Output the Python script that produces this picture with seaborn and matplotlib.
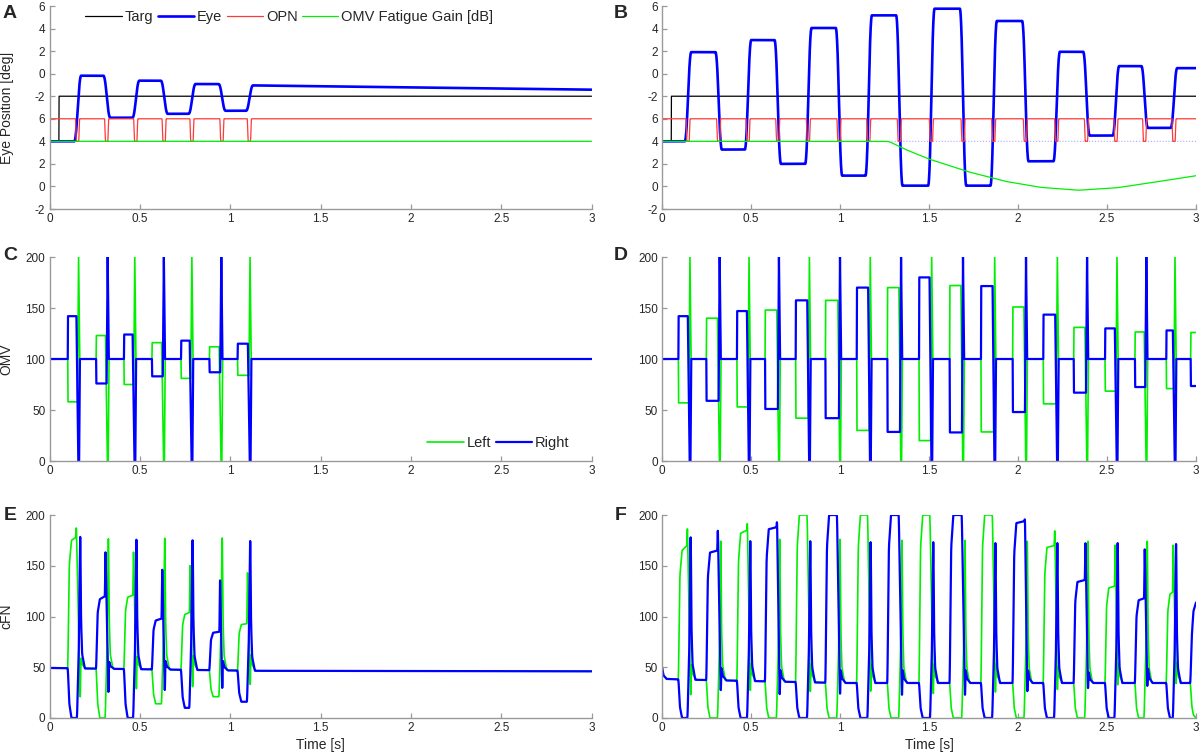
import numpy as np
import matplotlib
matplotlib.use("Agg")
import matplotlib.pyplot as plt
import seaborn as sns

sns.set_style("ticks")
plt.rcParams['font.family'] = ['Liberation Sans', 'DejaVu Sans']

BLUE = '#0000ff'
GREEN = '#00f000'
RED = '#ff3838'
AXC = '#9a9a9a'

# ---------------- values ----------------
# panels A / B : plot units (lower block -2..6, upper block -2..6 shifted by 10)
targ_step = 0.052
eye_a_on = [0.144, 0.305, 0.466, 0.623, 0.777, 0.943, 1.095]
eye_a_lvl = [9.82, 6.09, 9.38, 6.44, 9.08, 6.71, 8.96]
eye_a_end = 8.58
eye_b_on = [0.135, 0.307, 0.472, 0.639, 0.811, 0.983, 1.150, 1.322, 1.502,
            1.680, 1.852, 2.030, 2.206, 2.373, 2.539, 2.700, 2.865]
eye_b_lvl = [11.91, 3.27, 12.98, 2.0, 14.05, 0.96, 15.17, 0.07, 15.76,
             0.07, 14.67, 2.23, 11.94, 4.51, 10.67, 5.19, 10.49]
gain_b_t = [0, 1.273, 1.369, 1.498, 1.712, 1.927, 2.12, 2.335, 2.55, 2.764, 3.0]
gain_b_v = [4, 4, 3.27, 2.44, 1.34, 0.46, -0.07, -0.34, -0.13, 0.37, 0.96]
ab_ticks = [-2, 0, 2, 4, 6, 8, 10, 12, 14, 16]
ab_labels = ['-2', '0', '2', '4', '6', '-2', '0', '2', '4', '6']

# panels C / D : OMV
omv_c_on = [0.101, 0.258, 0.412, 0.567, 0.728, 0.885, 1.041]
omv_c_sp = [0.161, 0.322, 0.472, 0.633, 0.788, 0.951, 1.110]
omv_c_hi = [142, 123, 124, 116, 118, 112, 115]
omv_c_lo = [58, 76, 75, 83, 81, 87, 84]
omv_d_on = [0.092, 0.249, 0.421, 0.579, 0.751, 0.918, 1.094, 1.266, 1.444,
            1.616, 1.792, 1.970, 2.142, 2.313, 2.489, 2.657, 2.833]
omv_d_sp = [0.157, 0.324, 0.489, 0.657, 0.828, 1.000, 1.170, 1.343, 1.515,
            1.691, 1.869, 2.045, 2.221, 2.388, 2.556, 2.721, 2.882]
omv_d_hi = [142, 140, 147, 148, 157.5, 157.5, 170, 170, 180, 172, 171.5,
            151, 143.5, 131, 130, 126.5, 128]
omv_d_lo = [57, 59, 53, 51, 42, 42, 30, 28.5, 20, 28, 28.5, 48, 56, 67,
            68.5, 72.5, 71]
omv_d_tail = (2.970, 126, 73.5)

# panels E / F : cFN
cfn_e_base_t = [0, 1.15, 3.0]
cfn_e_base_v = [49.3, 46.5, 46.0]
cfn_e_on = [0.101, 0.258, 0.412, 0.567, 0.728, 0.885, 1.041]
cfn_e_pk = [0.148, 0.309, 0.464, 0.623, 0.777, 0.943, 1.095]
cfn_e_dr = [0.170, 0.326, 0.481, 0.638, 0.792, 0.956, 1.111]
cfn_e_up0 = [175, 117, 119, 96, 102, 84, 92]
cfn_e_up1 = [178, 120, 121, 98, 104, 85, 93]
cfn_e_upk = [193, 173, 173, 156, 160, 146, 152]
cfn_e_ulo = [13, 18, 21, 20, 23, 22, 26]
cfn_e_urb = [60, 56, 62, 57, 63, 57, 64]
cfn_e_dlo = [0, 0, 0, 14, 10, 21, 16]
cfn_e_dpk = [192, 190, 189, 190, 188, 190, 187]

cfn_f_base_t = [0, 0.008, 0.025, 0.1, 1.0, 3.0]
cfn_f_base_v = [50, 42, 38.5, 38, 34.5, 34.5]
cfn_f_on = omv_d_on
cfn_f_pk = [0.142, 0.313, 0.479, 0.646, 0.815, 0.983, 1.155, 1.330, 1.505,
            1.684, 1.856, 2.039, 2.206, 2.378, 2.545, 2.711, 2.871]
cfn_f_dr = [0.161, 0.330, 0.496, 0.661, 0.833, 1.000, 1.172, 1.348, 1.524,
            1.702, 1.873, 2.052, 2.221, 2.393, 2.560, 2.726, 2.888]
cfn_f_up0 = [165, 163, 182, 186, 200, 200, 200, 200, 200, 200, 200, 192,
             168, 134, 128, 116, 122]
cfn_f_up1 = [170, 165, 185, 188, 200, 200, 200, 200, 200, 200, 200, 194,
             170, 136, 130, 118, 124]
cfn_f_upk = [194, 193, 197, 198, 200, 200, 200, 200, 200, 200, 200, 198,
             193, 183, 181, 177, 180]
cfn_f_ulo = [15, 20, 19, 15, 18, 16, 18, 15, 16, 15, 17, 18, 20, 23, 25,
             25, 27]
cfn_f_urb = [54, 50, 55, 48, 55, 48, 55, 48, 55, 48, 55, 48, 52, 46, 56,
             50, 57]
cfn_f_dlo = [0] * 17
cfn_f_dpk = [192, 188, 188, 190, 188, 190, 187, 189, 187, 189, 186, 188,
             186, 188, 186, 188, 185]
cfn_f_tail_t = [2.968, 2.976, 2.985, 3.0]
cfn_f_tail_up = [34.5, 80, 105, 114]
cfn_f_tail_dn = [34.5, 12, 3, 0]

x_ticks = [0, 0.5, 1, 1.5, 2, 2.5, 3]
x_labels = ['0', '0.5', '1', '1.5', '2', '2.5', '3']

# ---------------- building the traces ----------------
dt = 0.0005
T = np.round(np.arange(0, 3 + dt / 2, dt), 6)


def from_knots(knots):
    return np.interp(T, [k[0] for k in knots], [k[1] for k in knots])


def smooth(y, width):
    n = max(1, int(round(width / dt)))
    pad = np.pad(y, n, mode='edge')
    return np.convolve(pad, np.ones(n) / n, mode='same')[n:-n]


def paste(y, knots):
    m = (T >= knots[0][0]) & (T <= knots[-1][0])
    y[m] = np.interp(T[m], [k[0] for k in knots], [k[1] for k in knots])


def eye_trace(onsets, levels, dur, end=None):
    knots = [(0, 4.0)]
    prev = 4.0
    for t0, lv in zip(onsets, levels):
        knots += [(t0, prev), (t0 + dur, lv)]
        prev = lv
    knots.append((3.0, prev if end is None else end))
    return smooth(from_knots(knots), 0.014)


def opn_trace(onsets):
    knots = [(0, 6)]
    for t0 in onsets:
        knots += [(t0, 6), (t0 + 0.004, 4), (t0 + 0.018, 4), (t0 + 0.022, 6)]
    knots.append((3.0, 6))
    return smooth(from_knots(knots), 0.002)


def omv_traces(onsets, spikes, hi, lo, tail=None):
    blue, green = [(0, 100)], [(0, 100)]
    for k, (t0, ts, h, l) in enumerate(zip(onsets, spikes, hi, lo)):
        hk = [(t0, 100), (t0 + 0.001, h), (ts - 0.012, h), (ts - 0.002, 0),
              (ts + 0.003, 0), (ts + 0.007, 100)]
        lk = [(t0, 100), (t0 + 0.001, l), (ts - 0.006, l), (ts, 200),
              (ts + 0.006, 100)]
        if k % 2 == 0:
            blue += hk
            green += lk
        else:
            green += hk
            blue += lk
    if tail is not None:
        t0, g, b = tail
        green += [(t0, 100), (t0 + 0.001, g)]
        blue += [(t0, 100), (t0 + 0.001, b)]
        green.append((3.0, g))
        blue.append((3.0, b))
    else:
        green.append((3.0, 100))
        blue.append((3.0, 100))
    return from_knots(green), from_knots(blue)


def cfn_traces(bt, bv, on, pk, dr, u0, u1, upk, ulo, urb, dlo, dpk,
               tail=None):
    base = np.interp(T, bt, bv)
    green, blue = base.copy(), base.copy()
    for k in range(len(on)):
        t0, tp, td = on[k], pk[k], dr[k]
        b = np.interp(t0, bt, bv)
        up = [(t0, b), (t0 + 0.008, b + 0.8 * (u0[k] - b)), (t0 + 0.02, u0[k]),
              (tp - 0.002, u1[k]), (tp, upk[k]), (td, ulo[k]),
              (td + 0.003, urb[k]), (td + 0.012, b + 0.3 * (urb[k] - b)),
              (td + 0.03, b)]
        dn = [(t0, b), (t0 + 0.008, b - 0.7 * (b - dlo[k])),
              (t0 + 0.02, dlo[k]), (td - 0.018, dlo[k]),
              (td - 0.008, dlo[k] + 0.35 * (dpk[k] - dlo[k])), (td, dpk[k]),
              (td + 0.004, b + 0.35 * (dpk[k] - b)),
              (td + 0.01, b + 0.1 * (dpk[k] - b)), (td + 0.025, b)]
        if k % 2 == 0:
            paste(green, up)
            paste(blue, dn)
        else:
            paste(blue, up)
            paste(green, dn)
    if tail is not None:
        tt, tu, tdn = tail
        if len(on) % 2 == 1:
            paste(blue, list(zip(tt, tu)))
            paste(green, list(zip(tt, tdn)))
        else:
            paste(green, list(zip(tt, tu)))
            paste(blue, list(zip(tt, tdn)))
    return smooth(green, 0.003), smooth(blue, 0.003)


# ---------------- figure ----------------
W, H = 1199, 755
fig = plt.figure(figsize=(W / 100, H / 100), dpi=100)


def make_ax(left, right, top, bottom):
    return fig.add_axes([left / W, 1 - bottom / H, (right - left) / W,
                         (bottom - top) / H])


cols = [(49.5, 591.5), (662, 1196)]
rows = [(6, 209), (257, 461), (515, 718)]
axes = [[make_ax(c[0], c[1], r[0], r[1]) for c in cols] for r in rows]


def line(ax, y, color, lw, label=None, ls='-'):
    sns.lineplot(x=T, y=y, ax=ax, color=color, lw=lw, label=label,
                 estimator=None, sort=False, linestyle=ls)


# A and B
for j, ax in enumerate(axes[0]):
    targ = from_knots([(0, 4), (targ_step, 4), (targ_step + 0.0005, 8),
                       (3, 8)])
    if j == 0:
        eye = eye_trace(eye_a_on, eye_a_lvl, 0.024, eye_a_end)
        opn = opn_trace(eye_a_on)
        gain = np.full_like(T, 4.0)
    else:
        eye = eye_trace(eye_b_on, eye_b_lvl, 0.022)
        opn = opn_trace(eye_b_on)
        gain = smooth(np.interp(T, gain_b_t, gain_b_v), 0.03)
    line(ax, np.full_like(T, 4.0), '#a8a8ff', 0.8, ls=':')
    line(ax, targ, 'black', 0.9, 'Targ')
    line(ax, eye, BLUE, 1.9, 'Eye')
    line(ax, opn, RED, 0.9, 'OPN')
    line(ax, gain, GREEN, 0.9, 'OMV Fatigue Gain [dB]')
    ax.set_ylim(-2, 16)
    ax.set_yticks(ab_ticks)
    ax.set_yticklabels(ab_labels)
    if j == 0:
        ax.legend(loc='upper left', bbox_to_anchor=(0.055, 1.01), ncol=4,
                  frameon=False, fontsize=10.5, handlelength=2.5,
                  handletextpad=0.2, columnspacing=0.3, borderaxespad=0)
        ax.set_ylabel('Eye Position [deg]', fontsize=10)
    else:
        ax.get_legend().remove()

# C and D
g_c, b_c = omv_traces(omv_c_on, omv_c_sp, omv_c_hi, omv_c_lo)
g_d, b_d = omv_traces(omv_d_on, omv_d_sp, omv_d_hi, omv_d_lo, omv_d_tail)
for j, (ax, g, b) in enumerate(zip(axes[1], [g_c, g_d], [b_c, b_d])):
    line(ax, g, GREEN, 1.2, 'Left')
    line(ax, b, BLUE, 1.6, 'Right')
    ax.set_ylim(0, 200)
    ax.set_yticks([0, 50, 100, 150, 200])
    if j == 0:
        ax.legend(loc='lower right', bbox_to_anchor=(0.97, 0.025),
                  frameon=False, fontsize=10.5, ncol=2, handlelength=2.5,
                  handletextpad=0.2, columnspacing=0.3, borderaxespad=0)
        ax.set_ylabel('OMV', fontsize=10)
    else:
        ax.get_legend().remove()

# E and F
g_e, b_e = cfn_traces(cfn_e_base_t, cfn_e_base_v, cfn_e_on, cfn_e_pk,
                      cfn_e_dr, cfn_e_up0, cfn_e_up1, cfn_e_upk, cfn_e_ulo,
                      cfn_e_urb, cfn_e_dlo, cfn_e_dpk)
g_f, b_f = cfn_traces(cfn_f_base_t, cfn_f_base_v, cfn_f_on, cfn_f_pk,
                      cfn_f_dr, cfn_f_up0, cfn_f_up1, cfn_f_upk, cfn_f_ulo,
                      cfn_f_urb, cfn_f_dlo, cfn_f_dpk,
                      (cfn_f_tail_t, cfn_f_tail_up, cfn_f_tail_dn))
for j, (ax, g, b) in enumerate(zip(axes[2], [g_e, g_f], [b_e, b_f])):
    line(ax, g, GREEN, 1.2)
    line(ax, b, BLUE, 1.6)
    ax.set_ylim(0, 200)
    ax.set_yticks([0, 50, 100, 150, 200])
    ax.set_xlabel('Time [s]', fontsize=10)
    ax.xaxis.set_label_coords(0.5, -0.1)
    if j == 0:
        ax.set_ylabel('cFN', fontsize=10)

for row in axes:
    for ax in row:
        ax.set_xlim(0, 3)
        ax.set_xticks(x_ticks)
        ax.set_xticklabels(x_labels)
        sns.despine(ax=ax)
        for s in ['left', 'bottom']:
            ax.spines[s].set_color(AXC)
            ax.spines[s].set_linewidth(1.0)
        ax.tick_params(direction='in', length=3.5, width=0.9, color=AXC,
                       labelsize=8.5, labelcolor='#262626', pad=3)
        ax.yaxis.set_label_coords(-0.066, 0.5)

for ax in [axes[0][0], axes[0][1], axes[1][0], axes[1][1]]:
    ax.set_xlabel('')
for ax in [axes[0][1], axes[1][1], axes[2][1]]:
    ax.set_ylabel('')

letters = [('A', 10, 13), ('B', 621, 13), ('C', 10, 256), ('D', 621, 256),
           ('E', 10, 515), ('F', 621, 515)]
for s, x, y in letters:
    fig.text(x / W, 1 - y / H, s, fontsize=14, fontweight='bold',
             ha='center', va='center')

fig.savefig('out.png', dpi=100)
